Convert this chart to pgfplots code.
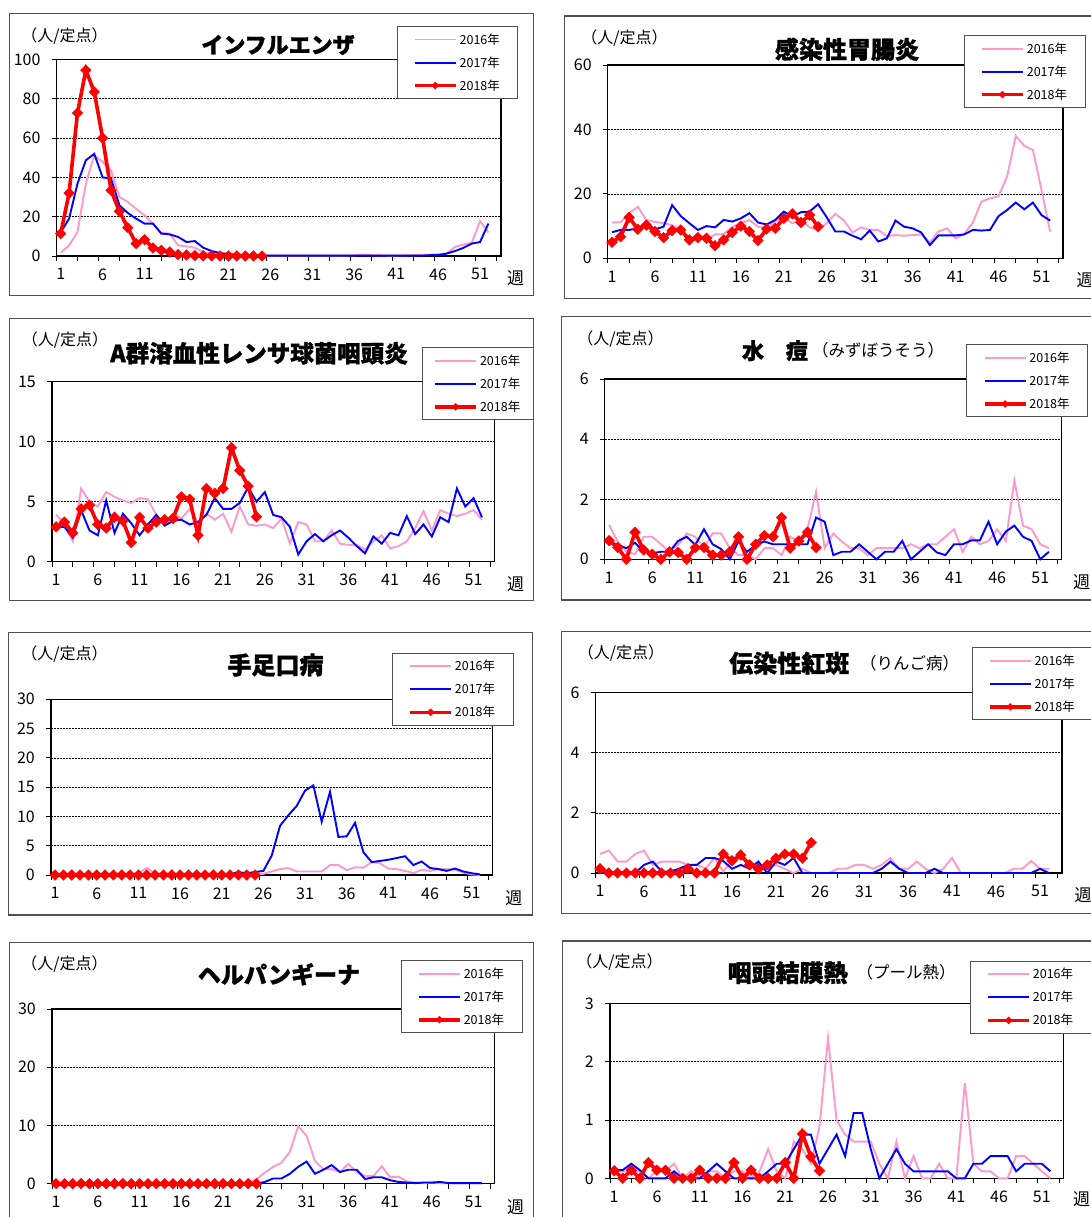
\documentclass[border=0pt]{standalone}
\usepackage{fontspec}
\setmainfont{Noto Sans CJK JP}[BoldFeatures={FakeBold=1.3}]
\usepackage{pgfplots}
\pgfplotsset{compat=1.18}
\definecolor{c16}{HTML}{FF99CC}
\definecolor{c17}{HTML}{0000FF}
\definecolor{c18}{HTML}{FF0000}
\definecolor{boxc}{HTML}{505050}
\pgfplotsset{
 /pgfplots/table/wk/.style={x expr=\coordindex+1,y index=0,header=false,row sep=\\},
 legend image code/.code={\draw[#1,mark=none] (0pt,0pt) -- (41pt,0pt); \draw[#1,only marks,mark size=2.5pt] plot coordinates {(20.5pt,0pt)};},
 panel/.style={
   scale only axis, anchor=south west, clip=false,
   xmin=0.5, xmax=53.5, ymin=0,
   xtick={0.5,3,...,53}, xticklabel={\relax},
   extra x ticks={1,6,11,16,21,26,31,36,41,46,51},
   extra x tick labels={1,6,11,16,21,26,31,36,41,46,51},
   extra x tick style={major tick length=0pt, grid=none},
   tick align=outside, major tick length=5pt,
   xtick pos=left, ytick pos=left,
   tick style={black, line width=0.8pt},
   ymajorgrids, major grid style={black, line width=0.6pt, dash pattern=on 0.6pt off 0.9pt},
   axis line style={black, line width=1.2pt},
   tick label style={font=\fontsize{16}{16}\selectfont},
   xticklabel style={yshift=-9pt},
   yticklabel style={xshift=-7.5pt},
   /pgf/number format/assume math mode=true,
   legend style={draw=boxc, line width=1pt, fill=white, font=\fontsize{12.5}{13}\selectfont, inner xsep=16pt, inner ysep=5pt, row sep=7pt, anchor=north west, cells={anchor=west}},
   legend cell align=left,
 },
 s16/.style={c16, line width=1.9pt, mark=none},
 s17/.style={c17, line width=1.9pt, mark=none},
 s18/.style={c18, line width=3.6pt, mark=square*, mark size=3.8pt, mark options={rotate=45, solid, line width=0.3pt, fill=c18, draw=c18}},
}
\newcommand{\unit}{\fontsize{16}{16}\selectfont}
\newcommand{\ttl}[1]{\fontsize{#1}{#1}\selectfont\bfseries}
\newcommand{\sub}{\fontsize{16.5}{17}\selectfont}
\newcommand{\wkf}{\fontsize{17}{17}\selectfont}
\begin{document}
\begin{tikzpicture}
\useasboundingbox (0pt,0pt) rectangle (1091pt,1217pt);
% panel boxes
\draw[boxc, line width=1.2pt] (9.6pt,921.7pt) rectangle (533.7pt,1203.7pt);
\draw[boxc, line width=1.2pt] (564.7pt,918.7pt) rectangle (1100pt,1201pt);
\draw[boxc, line width=1.2pt] (9.6pt,616.3pt) rectangle (533.7pt,898.7pt);
\draw[boxc, line width=1.2pt] (561.7pt,617pt) rectangle (1100pt,900.3pt);
\draw[boxc, line width=1.2pt] (8.6pt,302pt) rectangle (532.7pt,584.3pt);
\draw[boxc, line width=1.2pt] (561.7pt,303.7pt) rectangle (1100pt,585.3pt);
\draw[boxc, line width=1.2pt] (9.6pt,-13pt) rectangle (533.7pt,274.3pt);
\draw[boxc, line width=1.2pt] (562.7pt,-13pt) rectangle (1100pt,276pt);

% ---------- Panel 1 ----------
\begin{axis}[panel, at={(56.5pt,961pt)}, width=444.5pt, height=196.5pt, ymax=100, ytick={0,20,...,100},
  legend style={at={(0.765,1.1705)}}]
\addplot[s16] table[wk] {1.7\\5.4\\12.2\\36.8\\51.3\\47.9\\43.6\\30\\27.5\\24\\20.7\\16.5\\11.7\\11.4\\5.4\\4.9\\4.2\\2\\1.2\\0.8\\0.5\\0.3\\0.2\\0.2\\0.2\\0.2\\0.2\\0.2\\0.2\\0.2\\0.2\\0.2\\0.2\\0.2\\0.2\\0.3\\0.7\\0.4\\0.3\\0.2\\0.2\\0.3\\0.4\\0.5\\0.6\\0.8\\1.2\\4.6\\5.8\\6.6\\17.8\\12\\};
\addplot[s17] table[wk] {12\\19\\36.8\\48.7\\52\\40\\39.4\\25.8\\21.9\\19\\16.5\\16.5\\11.4\\11\\9.7\\7.1\\7.6\\4.2\\2.5\\1.5\\1\\0.7\\0.5\\0.4\\0.3\\0.2\\0.2\\0.2\\0.2\\0.2\\0.2\\0.2\\0.2\\0.2\\0.2\\0.2\\0.2\\0.2\\0.2\\0.2\\0.2\\0.2\\0.2\\0.2\\0.4\\0.5\\1.2\\2.5\\4.1\\6.3\\7.1\\16.5\\};
\addplot[s18] table[wk] {11.4\\32\\72.8\\94.6\\83.5\\60\\33.4\\22.7\\14.4\\6.3\\8.3\\4.1\\2.9\\2.0\\0.7\\0.5\\0.2\\0.1\\0.1\\0\\0\\0\\0\\0\\0\\};
\legend{2016年,2017年,2018年}
\end{axis}
\node[font=\unit] at (64.5pt,1181pt) {（人/定点）};
\node[font=\ttl{22}] at (278pt,1172pt) {インフルエンザ};
\node[font=\wkf] at (515.5pt,939pt) {週};

% ---------- Panel 2 ----------
\begin{axis}[panel, at={(607.7pt,958.7pt)}, width=455.3pt, height=193.3pt, ymax=60, ytick={0,20,40,60},
  legend style={at={(0.782,1.155)}}]
\addplot[s16] table[wk] {11.1\\11.2\\14.0\\16.0\\11.9\\11.3\\10.9\\10.3\\8.8\\6.7\\6.2\\5.7\\7.4\\7.5\\9.8\\10.9\\11.9\\9.8\\9.3\\11.4\\12.4\\10.9\\11.9\\9.6\\8.8\\10.9\\13.8\\11.7\\8.0\\9.6\\8.8\\8.8\\6.9\\7.2\\7.0\\7.2\\7.4\\4.9\\8.3\\9.3\\6.2\\7.5\\11.1\\17.6\\18.6\\19.3\\25.5\\38\\34.9\\33.6\\21.2\\8.3\\};
\addplot[s17] table[wk] {8.1\\8.8\\8.8\\9.3\\10.9\\9.0\\9.8\\16.5\\13.1\\10.9\\8.8\\10\\9.6\\11.9\\11.4\\12.4\\14.0\\11.1\\10.5\\11.9\\14.5\\12.9\\14.3\\14.5\\16.8\\12.7\\8.3\\8.3\\7.0\\5.9\\8.6\\5.2\\6.2\\11.7\\9.8\\9.3\\8.0\\4.1\\7.1\\7.1\\7.1\\7.4\\8.8\\8.6\\8.8\\13.1\\15\\17.3\\15.2\\17.3\\13.4\\11.7\\};
\addplot[s18] table[wk] {5.0\\6.7\\12.7\\9.0\\10.3\\8.3\\6.4\\8.6\\8.8\\5.7\\6.4\\6.2\\3.9\\5.7\\8.0\\10\\8.3\\5.5\\9.1\\9.3\\12.4\\13.8\\11.1\\13.4\\9.8\\};
\legend{2016年,2017年,2018年}
\end{axis}
\node[font=\unit] at (624.4pt,1178.7pt) {（人/定点）};
\node[font=\ttl{24}] at (847pt,1167.7pt) {感染性胃腸炎};
\node[font=\wkf] at (1085pt,937pt) {週};

% ---------- Panel 3 ----------
\begin{axis}[panel, at={(51.9pt,655.3pt)}, width=442.6pt, height=180pt, ymax=15, ytick={0,5,10,15},
  legend style={at={(0.836,1.191)}, inner xsep=11pt}]
\addplot[s16] table[wk] {3.9\\3.2\\1.7\\6.1\\5.0\\4.6\\5.8\\5.4\\5.1\\4.9\\5.3\\5.2\\3.9\\3.2\\4.0\\3.6\\4.4\\3.2\\4.0\\3.5\\4.0\\2.5\\4.6\\3.1\\3.0\\3.1\\2.8\\3.6\\1.5\\3.3\\3.1\\1.7\\1.7\\2.6\\1.5\\1.4\\1.4\\1.0\\1.7\\2.2\\1.1\\1.3\\1.7\\2.8\\4.2\\2.6\\4.3\\4.0\\3.8\\4.0\\4.3\\3.5\\};
\addplot[s17] table[wk] {2.9\\2.9\\2.0\\4.3\\2.6\\2.2\\5.1\\2.4\\4.0\\3.2\\2.2\\3.1\\3.9\\3.0\\3.4\\3.5\\3.1\\3.3\\3.9\\5.3\\4.4\\4.4\\4.9\\6.2\\5.0\\5.8\\3.9\\3.7\\2.9\\0.6\\1.7\\2.3\\1.7\\2.2\\2.6\\2.0\\1.3\\0.7\\2.1\\1.5\\2.4\\2.2\\3.8\\2.3\\3.1\\2.1\\3.7\\3.3\\6.1\\4.6\\5.3\\3.7\\};
\addplot[s18] table[wk] {2.9\\3.3\\2.4\\4.4\\4.7\\3.1\\2.8\\3.7\\3.4\\1.6\\3.7\\2.8\\3.3\\3.5\\3.6\\5.4\\5.2\\2.2\\6.1\\5.7\\6.1\\9.5\\7.6\\6.3\\3.75\\};
\legend{2016年,2017年,2018年}
\end{axis}
\node[font=\unit] at (65pt,877pt) {（人/定点）};
\node[font=\ttl{23.5}] at (259pt,863.7pt) {A群溶血性レンサ球菌咽頭炎};
\node[font=\wkf] at (515.5pt,632.7pt) {週};

% ---------- Panel 4 ----------
\begin{axis}[panel, at={(604.8pt,657.7pt)}, width=457pt, height=180.3pt, ymax=6, ytick={0,2,4,6},
  legend style={at={(0.791,1.1925)}}]
\addplot[s16] table[wk] {1.14\\0.59\\0.25\\0.17\\0.75\\0.75\\0.5\\0.25\\0.48\\0.86\\0.75\\0.37\\0.86\\0.86\\0.37\\0.14\\0.14\\0\\0.37\\0.37\\0.14\\0.75\\0.59\\1.0\\2.25\\0.37\\0.86\\0.59\\0.37\\0.37\\0.14\\0.37\\0.37\\0.37\\0.37\\0.5\\0.37\\0.5\\0.5\\0.75\\1.0\\0.25\\0.75\\0.5\\0.61\\1.0\\0.61\\2.62\\1.12\\1.0\\0.5\\0.37\\};
\addplot[s17] table[wk] {0.59\\0.48\\0.37\\0.55\\0.25\\0.2\\0.25\\0.25\\0.61\\0.75\\0.48\\1.0\\0.5\\0.34\\0\\0.6\\0.25\\0.48\\0.59\\0.5\\0.5\\0.5\\0.5\\0.5\\1.39\\1.25\\0.14\\0.25\\0.25\\0.5\\0.25\\0\\0.25\\0.25\\0.61\\0\\0.25\\0.5\\0.23\\0.14\\0.5\\0.5\\0.63\\0.63\\1.25\\0.5\\0.92\\1.12\\0.75\\0.61\\0\\0.25\\};
\addplot[s18] table[wk] {0.62\\0.39\\0\\0.9\\0.31\\0.17\\0\\0.25\\0.23\\0\\0.39\\0.39\\0.14\\0.14\\0.25\\0.75\\0\\0.5\\0.79\\0.75\\1.39\\0.37\\0.61\\0.9\\0.39\\};
\legend{2016年,2017年,2018年}
\end{axis}
\node[font=\unit] at (620.6pt,878pt) {（人/定点）};
\node[font=\ttl{22}] at (775pt,866.3pt) {水　痘};
\node[font=\sub] at (878pt,866.3pt) {（みずぼうそう）};
\node[font=\wkf] at (1081.5pt,635.3pt) {週};

% ---------- Panel 5 ----------
\begin{axis}[panel, at={(50.9pt,342pt)}, width=441.6pt, height=175.7pt, ymax=30, ytick={0,5,...,30},
  legend style={at={(0.772,1.265)}}]
\addplot[s16] table[wk] {0.2\\0.2\\0.2\\0.2\\0.2\\0.2\\0.2\\0.2\\0.2\\0.2\\0.3\\1.2\\0.3\\0.2\\0.2\\0.2\\0.2\\0.2\\0.2\\0.2\\0.2\\0.2\\0.2\\0.2\\0.2\\0.2\\0.6\\1.0\\1.2\\0.6\\0.6\\0.6\\0.6\\1.7\\1.7\\0.85\\1.3\\1.25\\2.2\\2.0\\1.1\\1.0\\0.7\\0.3\\0.9\\0.7\\1.0\\1.0\\0.9\\0.4\\0.1\\0\\};
\addplot[s17] table[wk] {0.1\\0.1\\0.1\\0.1\\0.1\\0.1\\0.1\\0.1\\0.1\\0.1\\0.1\\0.1\\0.1\\0.1\\0.1\\0.1\\0.1\\0.1\\0.1\\0.1\\0.1\\0.1\\0.5\\0.3\\0.5\\0.7\\3.3\\8.4\\10.2\\11.8\\14.4\\15.3\\9.1\\14.2\\6.5\\6.6\\8.9\\3.9\\2.2\\2.4\\2.6\\2.9\\3.2\\1.7\\2.3\\1.2\\1.0\\0.7\\1.1\\0.6\\0.3\\0.1\\};
\addplot[s18] table[wk] {0\\0\\0\\0\\0\\0\\0\\0\\0\\0\\0\\0\\0\\0\\0\\0\\0\\0\\0\\0\\0\\0\\0\\0\\0\\};
\legend{2016年,2017年,2018年}
\end{axis}
\node[font=\unit] at (64.5pt,563pt) {（人/定点）};
\node[font=\ttl{24}] at (275.5pt,552pt) {手足口病};
\node[font=\wkf] at (513.8pt,318.7pt) {週};

% ---------- Panel 6 ----------
\begin{axis}[panel, at={(595.6pt,344pt)}, width=466.4pt, height=180.3pt, ymax=6, ytick={0,2,4,6},
  legend style={at={(0.806,1.252)}}]
\addplot[s16] table[wk] {0.63\\0.75\\0.38\\0.38\\0.63\\0.75\\0.27\\0.38\\0.38\\0.38\\0.27\\0.27\\0.14\\0.5\\0.05\\0.4\\0.5\\0.27\\0.27\\0.14\\0.27\\0.14\\0\\0.14\\0\\0\\0\\0.14\\0.14\\0.27\\0.27\\0.14\\0.27\\0.5\\0.14\\0.14\\0.38\\0.14\\0\\0.14\\0.5\\0\\0\\0\\0\\0\\0\\0.14\\0.14\\0.4\\0.14\\0.14\\};
\addplot[s17] table[wk] {0\\0\\0\\0\\0\\0.27\\0.38\\0.05\\0.05\\0.14\\0.27\\0.27\\0.5\\0.5\\0.4\\0.14\\0.27\\0.14\\0.38\\0\\0.38\\0.27\\0.5\\0\\0\\0\\0\\0\\0\\0\\0\\0\\0.14\\0.38\\0.14\\0\\0\\0\\0.14\\0\\0\\0\\0\\0\\0\\0\\0\\0\\0\\0\\0.14\\0\\};
\addplot[s18] table[wk] {0.14\\0\\0\\0\\0\\0\\0\\0\\0\\0\\0.14\\0\\0\\0\\0.63\\0.41\\0.6\\0.27\\0.14\\0.27\\0.49\\0.63\\0.63\\0.49\\1.01\\};
\legend{2016年,2017年,2018年}
\end{axis}
\node[font=\unit] at (621pt,563.7pt) {（人/定点）};
\node[font=\ttl{24}] at (789.3pt,553.7pt) {伝染性紅斑};
\node[font=\sub] at (909.5pt,553.7pt) {（りんご病）};
\node[font=\wkf] at (1083pt,322pt) {週};

% ---------- Panel 7 ----------
\begin{axis}[panel, at={(51.9pt,33.3pt)}, width=442.6pt, height=174.7pt, ymax=30, ytick={0,10,20,30},
  legend style={at={(0.788,1.280)}}]
\addplot[s16] table[wk] {0.1\\0.1\\0.1\\0.1\\0.1\\0.1\\0.1\\0.1\\0.1\\0.1\\0.1\\0.1\\0.1\\0.1\\0.1\\0.1\\0.1\\0.1\\0.1\\0.1\\0.1\\0.1\\0.1\\0.1\\0.8\\1.9\\2.9\\3.6\\5.5\\9.9\\8.2\\3.9\\2.5\\2.5\\2.0\\3.4\\2.0\\1.3\\1.3\\3.0\\1.1\\1.2\\0.4\\0.2\\0.1\\0.2\\0.1\\0.1\\0.1\\0.1\\0.1\\0.1\\};
\addplot[s17] table[wk] {0\\0\\0\\0\\0\\0\\0\\0\\0\\0\\0\\0\\0\\0\\0\\0\\0\\0\\0\\0\\0\\0\\0\\0\\0\\0.3\\0.9\\0.9\\1.7\\2.9\\3.8\\1.7\\2.4\\3.2\\2.0\\2.4\\2.4\\0.8\\1.1\\1.1\\0.6\\0.3\\0.2\\0.1\\0.2\\0.2\\0.3\\0.1\\0.1\\0.1\\0.1\\0.1\\};
\addplot[s18] table[wk] {0\\0\\0\\0\\0\\0\\0\\0\\0\\0\\0\\0\\0\\0\\0\\0\\0\\0\\0\\0\\0\\0\\0\\0\\0\\};
\legend{2016年,2017年,2018年}
\end{axis}
\node[font=\unit] at (64.5pt,253pt) {（人/定点）};
\node[font=\ttl{23}] at (279pt,242.7pt) {ヘルパンギーナ};
\node[font=\wkf] at (515.5pt,10.3pt) {週};

% ---------- Panel 8 ----------
\begin{axis}[panel, at={(609.9pt,38.7pt)}, width=453.3pt, height=175pt, ymax=3, ytick={0,1,2,3},
  legend style={at={(0.794,1.243)}}]
\addplot[s16] table[wk] {0.14\\0.12\\0.12\\0.12\\0\\0.12\\0.12\\0.25\\0\\0.12\\0\\0.12\\0.12\\0\\0.12\\0.12\\0\\0.12\\0.5\\0.12\\0\\0.63\\0.5\\0.25\\0.88\\2.4\\1.0\\0.75\\0.63\\0.63\\0.63\\0.25\\0\\0.63\\0\\0.38\\0\\0\\0.25\\0\\0\\1.63\\0.25\\0.12\\0.12\\0\\0\\0.38\\0.38\\0.25\\0.12\\0\\};
\addplot[s17] table[wk] {0.14\\0.14\\0.25\\0.14\\0\\0\\0\\0.12\\0\\0\\0\\0.12\\0.25\\0.12\\0\\0\\0\\0\\0.12\\0.25\\0.25\\0.5\\0.75\\0.75\\0.25\\0.5\\0.75\\0.38\\1.12\\1.12\\0.5\\0\\0.25\\0.5\\0.25\\0.12\\0.12\\0.12\\0.12\\0.12\\0\\0\\0.25\\0.25\\0.38\\0.38\\0.38\\0.12\\0.25\\0.25\\0.25\\0.12\\};
\addplot[s18] table[wk] {0.13\\0\\0.14\\0\\0.27\\0.14\\0.14\\0\\0\\0\\0.14\\0\\0\\0\\0.27\\0\\0.14\\0\\0\\0\\0.27\\0\\0.76\\0.37\\0.13\\};
\legend{2016年,2017年,2018年}
\end{axis}
\node[font=\unit] at (619.6pt,255.3pt) {（人/定点）};
\node[font=\ttl{24}] at (787.6pt,244.3pt) {咽頭結膜熱};
\node[font=\sub] at (906pt,244.3pt) {（プール熱）};
\node[font=\wkf] at (1081.5pt,17.7pt) {週};
\end{tikzpicture}
\end{document}
